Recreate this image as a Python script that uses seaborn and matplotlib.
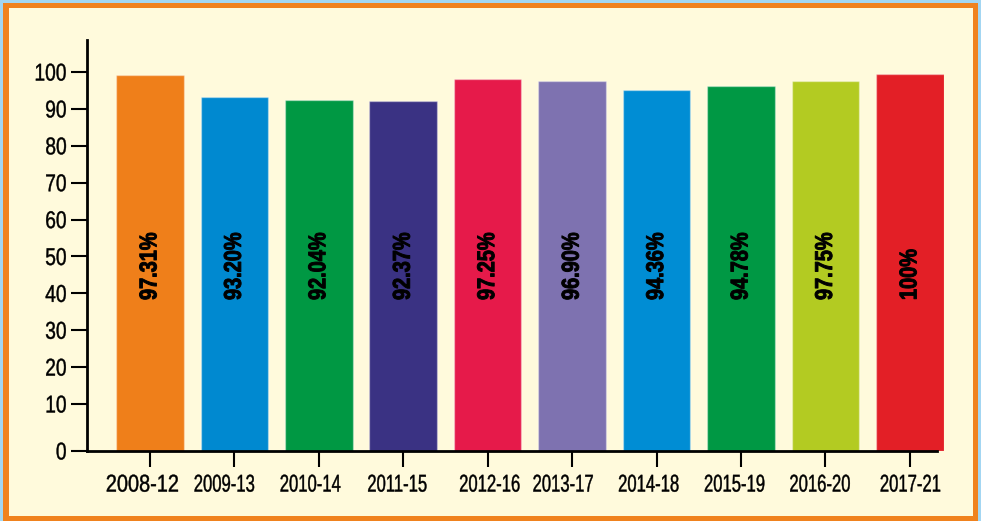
import matplotlib
matplotlib.use("Agg")
import matplotlib.pyplot as plt
import seaborn as sns
import pandas as pd
from matplotlib.patches import Rectangle
from matplotlib.patheffects import AbstractPathEffect
from matplotlib.transforms import Affine2D

# ---- data ----
periods = ["2008-12", "2009-13", "2010-14", "2011-15", "2012-16",
           "2013-17", "2014-18", "2015-19", "2016-20", "2017-21"]
bar_heights = [99.2, 93.2, 92.4, 92.05, 98.0, 97.7, 95.2, 96.3, 97.5, 99.45]
value_labels = ["97.31%", "93.20%", "92.04%", "92.37%", "97.25%",
                "96.90%", "94.36%", "94.78%", "97.75%", "100%"]
bar_colors = ["#EF7F1A", "#0089D0", "#009843", "#3A3283", "#E61A4A",
              "#7E72B0", "#008DD4", "#009844", "#B3CB22", "#E31F26"]
ytick_values = [10, 20, 30, 40, 50, 60, 70, 80, 90, 100]

# layout tweaks: horizontal condensing and small x-offsets (pixels) of x labels
xlabel_squeeze = [0.82, 0.685, 0.685, 0.685, 0.685, 0.685, 0.685, 0.685, 0.685, 0.685]
xlabel_dx = [-7.5, -10, -8.5, -6, 2, -9, -8, -6.5, -5.5, 0.5]


class Squeeze(AbstractPathEffect):
    """Condense text horizontally (in its own frame) about an anchor,
    optionally thicken strokes and shift by dx display pixels (at 100 dpi)."""
    def __init__(self, sx=0.82, anchor="center", stroke=0.0, dx=0.0):
        super().__init__()
        self.sx = sx
        self.anchor = anchor
        self.stroke = stroke
        self.dx = dx

    def draw_path(self, renderer, gc, tpath, affine, rgbFace=None):
        ext = tpath.get_extents()
        if self.anchor == "left":
            cx = 0.0
        elif self.anchor == "right":
            cx = ext.x1
        else:
            cx = (ext.x0 + ext.x1) / 2
        shift = renderer.points_to_pixels(self.dx * 0.72)
        t = (Affine2D().translate(-cx, 0).scale(self.sx, 1).translate(cx, 0)
             + affine + Affine2D().translate(shift, 0))
        gc0 = renderer.new_gc()
        gc0.copy_properties(gc)
        if self.stroke > 0 and rgbFace is not None:
            gc0.set_linewidth(self.stroke)
            gc0.set_foreground(rgbFace)
        renderer.draw_path(gc0, tpath, t, rgbFace)
        gc0.restore()


# ---- style ----
sns.set_style("ticks")
plt.rcParams["font.family"] = ["Liberation Sans", "DejaVu Sans"]

W, H = 981, 521
fig = plt.figure(figsize=(W / 100, H / 100), dpi=100)
fig.patch.set_facecolor("#A3D6F2")

# orange frame and cream panel
fig.patches.append(Rectangle((3 / W, 0), 975 / W, 518 / H, transform=fig.transFigure,
                             facecolor="#F0821E", edgecolor="none", zorder=-10))
fig.patches.append(Rectangle((9 / W, 5 / H), 964 / W, 508 / H, transform=fig.transFigure,
                             facecolor="#FFFADC", edgecolor="none", zorder=-9))

zero_pos = -2.74   # axis baseline (the "0" tick sits below a compressed gap)
ax = fig.add_axes([87 / W, 70 / H, 856.7 / W, 411 / H])
ax.set_facecolor("none")

df = pd.DataFrame({"period": periods, "height": bar_heights})
sns.barplot(data=df, x="period", y="height", hue="period", palette=bar_colors,
            legend=False, width=0.8, ax=ax, saturation=1,
            edgecolor=(1, 1, 1, 0.35), linewidth=1)

for p in ax.patches:
    top = p.get_y() + p.get_height()
    p.set_y(zero_pos)
    p.set_height(top - zero_pos)

for i, lab in enumerate(value_labels):
    ax.text(i, 38.2, lab, rotation=90, ha="center", va="bottom",
            fontsize=17.5, fontweight="bold", color="#000000",
            path_effects=[Squeeze(0.82, "left", stroke=0.7)])

ax.set_xlim(-0.745, 9.40)
ax.set_ylim(zero_pos, 108.7)
ax.set_yticks([zero_pos] + ytick_values)
ax.set_yticklabels(["0"] + [str(v) for v in ytick_values])
ax.set_xlabel("")
ax.set_ylabel("")

for s in ["top", "right"]:
    ax.spines[s].set_visible(False)
for s in ["left", "bottom"]:
    ax.spines[s].set_linewidth(2.0)
    ax.spines[s].set_color("#000000")
ax.spines["bottom"].set_bounds(-0.745, 9.32)

ax.tick_params(axis="both", length=11.5, width=1.5, color="#000000",
               labelsize=17.5, labelcolor="#000000")
ax.tick_params(axis="y", pad=3)
ax.tick_params(axis="x", pad=5.5)

for t, sx, dx in zip(ax.get_xticklabels(), xlabel_squeeze, xlabel_dx):
    t.set_path_effects([Squeeze(sx, "center", stroke=0.3, dx=dx)])
for t in ax.get_yticklabels():
    t.set_path_effects([Squeeze(0.79, "right", stroke=0.3)])

fig.savefig("out.png", dpi=100, facecolor=fig.get_facecolor())
